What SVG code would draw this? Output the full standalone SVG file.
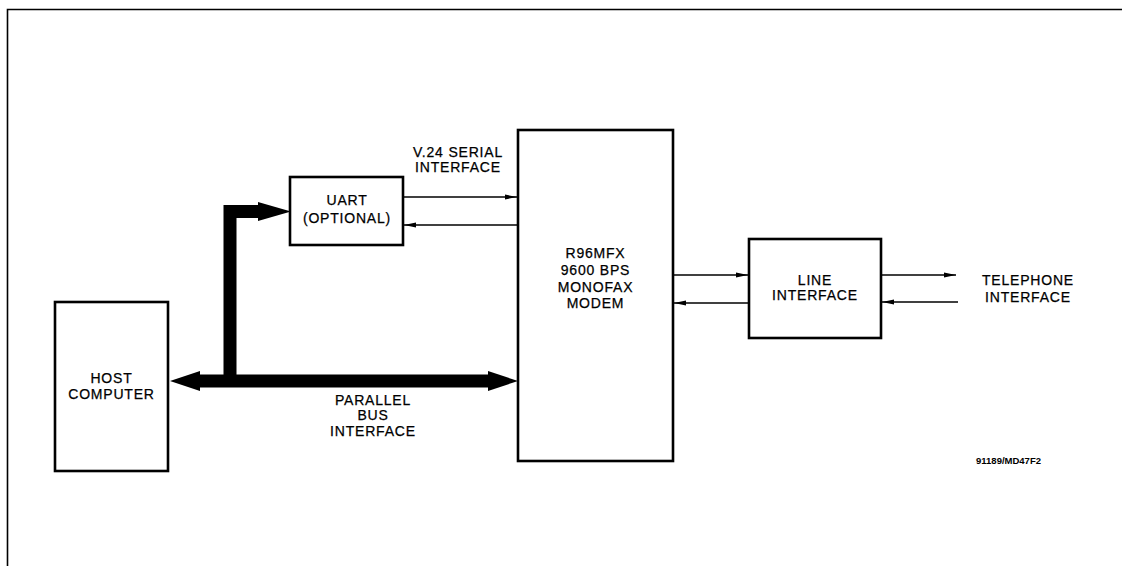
<svg xmlns="http://www.w3.org/2000/svg" width="1122" height="566" viewBox="0 0 1122 566">
<defs>
<style>
.box{fill:#fff;stroke:#000;stroke-width:2.6}
.t{font-family:"Liberation Sans",Arial,sans-serif;font-size:14px;letter-spacing:0.8px;fill:#000;text-anchor:middle;stroke:#000;stroke-width:0.25}
.thin{stroke:#000;stroke-width:1.4;fill:none}
.bus{stroke:#000;stroke-width:13;fill:none;stroke-linejoin:miter}
.head{fill:#000}
</style>
<marker id="ah" viewBox="0 0 12 6" refX="12" refY="3" markerWidth="12" markerHeight="6" markerUnits="userSpaceOnUse" orient="auto">
<path d="M0,0.6 L12,3 L0,5.4 Z" fill="#000"/>
</marker>
</defs>
<rect width="1122" height="566" fill="#fff"/>
<path d="M7.5,566 V9.5 H1122" fill="none" stroke="#000" stroke-width="1.6"/>

<g id="connectors">
<path class="bus" d="M230,381 V211.5 H262"/>
<polygon class="head" points="258,202 291,211.5 258,221"/>
<path class="bus" d="M196,381 H492"/>
<polygon class="head" points="170,381 200,371 200,391"/>
<polygon class="head" points="518,381 488,371 488,391"/>
<line class="thin" x1="403" y1="197" x2="517" y2="197" marker-end="url(#ah)"/>
<line class="thin" x1="518" y1="225" x2="404" y2="225" marker-end="url(#ah)"/>
<line class="thin" x1="673" y1="275" x2="748" y2="275" marker-end="url(#ah)"/>
<line class="thin" x1="749" y1="303" x2="674" y2="303" marker-end="url(#ah)"/>
<line class="thin" x1="881" y1="275" x2="956" y2="275" marker-end="url(#ah)"/>
<line class="thin" x1="958" y1="302" x2="882" y2="302" marker-end="url(#ah)"/>
</g>

<g id="host">
<rect class="box" x="55" y="302" width="113" height="169"/>
<text class="t" x="111.5" y="383">HOST</text>
<text class="t" x="111.5" y="399">COMPUTER</text>
</g>

<g id="uart">
<rect class="box" x="290" y="177" width="113" height="68"/>
<text class="t" x="347" y="205">UART</text>
<text class="t" x="347" y="223">(OPTIONAL)</text>
</g>

<g id="modem">
<rect class="box" x="518" y="130" width="155" height="331"/>
<text class="t" x="595.5" y="258">R96MFX</text>
<text class="t" x="595.5" y="275">9600 BPS</text>
<text class="t" x="595.5" y="292">MONOFAX</text>
<text class="t" x="595.5" y="308">MODEM</text>
</g>

<g id="line">
<rect class="box" x="749" y="239" width="132" height="99"/>
<text class="t" x="815" y="285">LINE</text>
<text class="t" x="815" y="300">INTERFACE</text>
</g>

<g id="labels">
<text class="t" x="458" y="157">V.24 SERIAL</text>
<text class="t" x="458" y="172">INTERFACE</text>
<text class="t" x="373" y="405">PARALLEL</text>
<text class="t" x="373" y="420">BUS</text>
<text class="t" x="373" y="436">INTERFACE</text>
<text class="t" x="1028" y="285">TELEPHONE</text>
<text class="t" x="1028" y="302">INTERFACE</text>
<text x="1041" y="464" font-family="'Liberation Sans',Arial,sans-serif" font-size="9.5" font-weight="bold" text-anchor="end">91189/MD47F2</text>
</g>
</svg>
